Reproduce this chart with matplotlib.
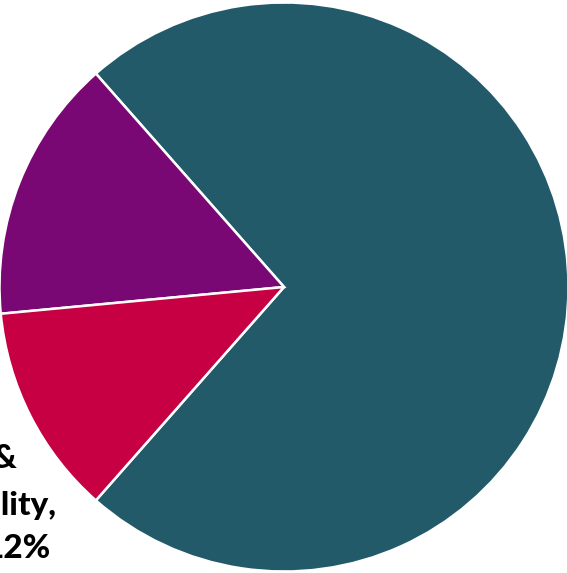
import matplotlib
matplotlib.use("Agg")
import matplotlib.pyplot as plt

categories = ["Other", "Category B", "Health & Disability"]
values = [73, 15, 12]
colors = ["#225A69", "#7A0874", "#C70044"]
label_lines = ["Health &", "Disability,", "12%"]

W, H = 567, 573
fig = plt.figure(figsize=(W / 100, H / 100), dpi=100)
ax = fig.add_axes([0, 0, 1, 1])
ax.pie(values, colors=colors, startangle=228.6, counterclock=True,
       wedgeprops=dict(edgecolor="white", linewidth=1.8))

cx, cy, r = 284.0, 287.0, 284.5
ax.set_aspect("auto")
ax.set_xlim(-cx / r, (W - cx) / r)
ax.set_ylim(-(H - cy) / r, cy / r)
ax.axis("off")

def px(x, y):
    return (x - cx) / r, (cy - y) / r

# data label of the red slice (partly outside the visible area)
line_pos = [(17, 468), (56, 515), (50, 558)]
for txt, (x, y) in zip(label_lines, line_pos):
    dx, dy = px(x, y)
    ax.text(dx, dy, txt, ha="right", va="baseline", fontsize=24,
            fontweight="black", family="Lato", color="black")

fig.savefig("out.png", dpi=100)
